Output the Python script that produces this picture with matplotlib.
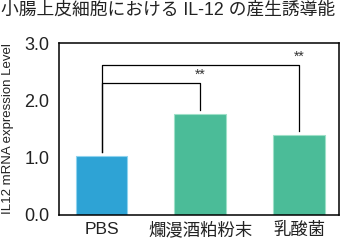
import numpy as np
import matplotlib.pyplot as plt

plt.rcParams['font.family'] = ['Liberation Sans', 'Noto Sans CJK JP', 'DejaVu Sans']

categories = ['PBS', '爛漫酒粕粉末', '乳酸菌']
values = [1.02, 1.77, 1.40]
colors = ['#2ea3d5', '#4bbc98', '#4bbc98']
edges = ['#8fd3ee', '#9ee0c8', '#9ee0c8']
yticks = [0.0, 1.0, 2.0, 3.0]

# brackets: (from, to, height, left foot, right foot)
brackets = [(0, 1, 2.30, 1.09, 1.84), (0, 2, 2.62, 1.09, 1.47)]

fig = plt.figure(figsize=(3.43, 2.42), dpi=100)
ax = fig.add_axes([0.172, 0.112, 0.816, 0.710])

x = np.arange(len(categories))
ax.bar(x, values, width=0.525, color=colors, edgecolor=edges, linewidth=0.8)

for a, b, h, fa, fb in brackets:
    ax.plot([a, a, b, b], [fa, h, h, fb], color='black', linewidth=0.9)
    ax.text(b, h + 0.02, '**', ha='center', va='bottom', fontsize=10, color='#333333')

ax.set_xlim(-0.43, 2.40)
ax.set_ylim(0, 3.0)
ax.set_yticks(yticks)
ax.set_yticklabels(['%.1f' % t for t in yticks], fontsize=13, color='#222222')
ax.set_xticks(x)
ax.set_xticklabels(categories, fontsize=12.5, color='#222222')
ax.tick_params(length=0, pad=5)
ax.tick_params(axis='y', pad=7)
for s in ax.spines.values():
    s.set_linewidth(1.1)

ax.set_ylabel('IL12 mRNA expression Level', fontsize=9.5, color='#222222')
ax.yaxis.set_label_coords(-0.16, 0.5)

fig.text(0.003, 0.995, '小腸上皮細胞における IL-12 の産生誘導能', ha='left', va='top',
         fontsize=12.8, color='#222222')

fig.savefig('out.png', dpi=100)
